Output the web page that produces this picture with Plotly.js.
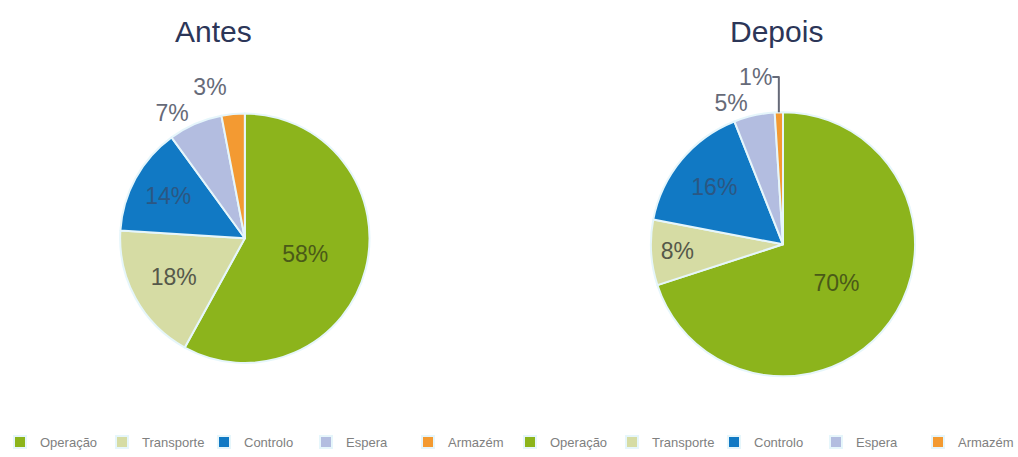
<!DOCTYPE html>
<html>
<head>
<meta charset="utf-8">
<script src="https://cdn.plot.ly/plotly-3.0.1.min.js"></script>
<style>
html,body{margin:0;padding:0;background:#fff;}
#chart{width:1018px;height:457px;}
.pielayer .trace:first-child path.textline{display:none;}
</style>
</head>
<body>
<div id="chart"></div>
<script>
const categories = ["Operação", "Transporte", "Controlo", "Espera", "Armazém"];
// trailing space keeps the second pie's legend entries distinct from the first
const categoriesDepois = categories.map(c => c + " ");
const antesValues = [58, 18, 14, 7, 3];
const depoisValues = [70, 8, 16, 5, 1];
const titles = ["Antes", "Depois"];
const colors = ["#8cb41c", "#d6dca4", "#1179c4", "#b3bde0", "#f39a32"];
const textColors = ["#4a5a18", "#55584a", "#2b5783", "#626676", "#5a6478"];

const antesPos = ["inside", "inside", "inside", "outside", "outside"];
const depoisPos = ["inside", "inside", "inside", "outside", "outside"];

const FONT = "Liberation Sans, Arial, sans-serif";

const common = {
  type: "pie",
  sort: false,
  direction: "clockwise",
  rotation: 0,
  textinfo: "percent",
  texttemplate: "%{percent:.0%}",
  hoverinfo: "label+percent",
  insidetextorientation: "horizontal",
  marker: {colors: colors, line: {color: "#e6f6fb", width: 2}},
  textfont: {family: FONT, size: 23, color: textColors},
  outsidetextfont: {family: FONT, size: 23, color: "#666a78"},
  showlegend: true
};

const data = [
  Object.assign({}, common, {
    labels: categories,
    values: antesValues,
    name: titles[0],
    textposition: antesPos,
    domain: {x: [0.117, 0.364], y: [0.150, 0.734]}
  }),
  Object.assign({}, common, {
    labels: categoriesDepois,
    values: depoisValues,
    name: titles[1],
    textposition: depoisPos,
    domain: {x: [0.6385, 0.8998], y: [0.1186, 0.7372]}
  })
];

const layout = {
  width: 1018,
  height: 457,
  margin: {l: 0, r: 0, t: 0, b: 27},
  paper_bgcolor: "#ffffff",
  showlegend: true,
  legend: {
    orientation: "h",
    font: {family: FONT, size: 13, color: "#808080"},
    itemwidth: 30,
    entrywidth: 57,
    entrywidthmode: "pixels",
    bgcolor: "rgba(0,0,0,0)",
    xanchor: "left",
    yanchor: "top",
    traceorder: "normal",
    x: 0,
    y: 0
  },
  annotations: [
    {text: titles[0], x: 0.210, y: 0.926, xref: "paper", yref: "paper", showarrow: false,
     xanchor: "center", yanchor: "middle",
     font: {family: FONT, size: 30, color: "#2c3658"}},
    {text: titles[1], x: 0.763, y: 0.926, xref: "paper", yref: "paper", showarrow: false,
     xanchor: "center", yanchor: "middle",
     font: {family: FONT, size: 30, color: "#2c3658"}}
  ]
};

Plotly.newPlot("chart", data, layout, {displayModeBar: false, staticPlot: true});
</script>
</body>
</html>
